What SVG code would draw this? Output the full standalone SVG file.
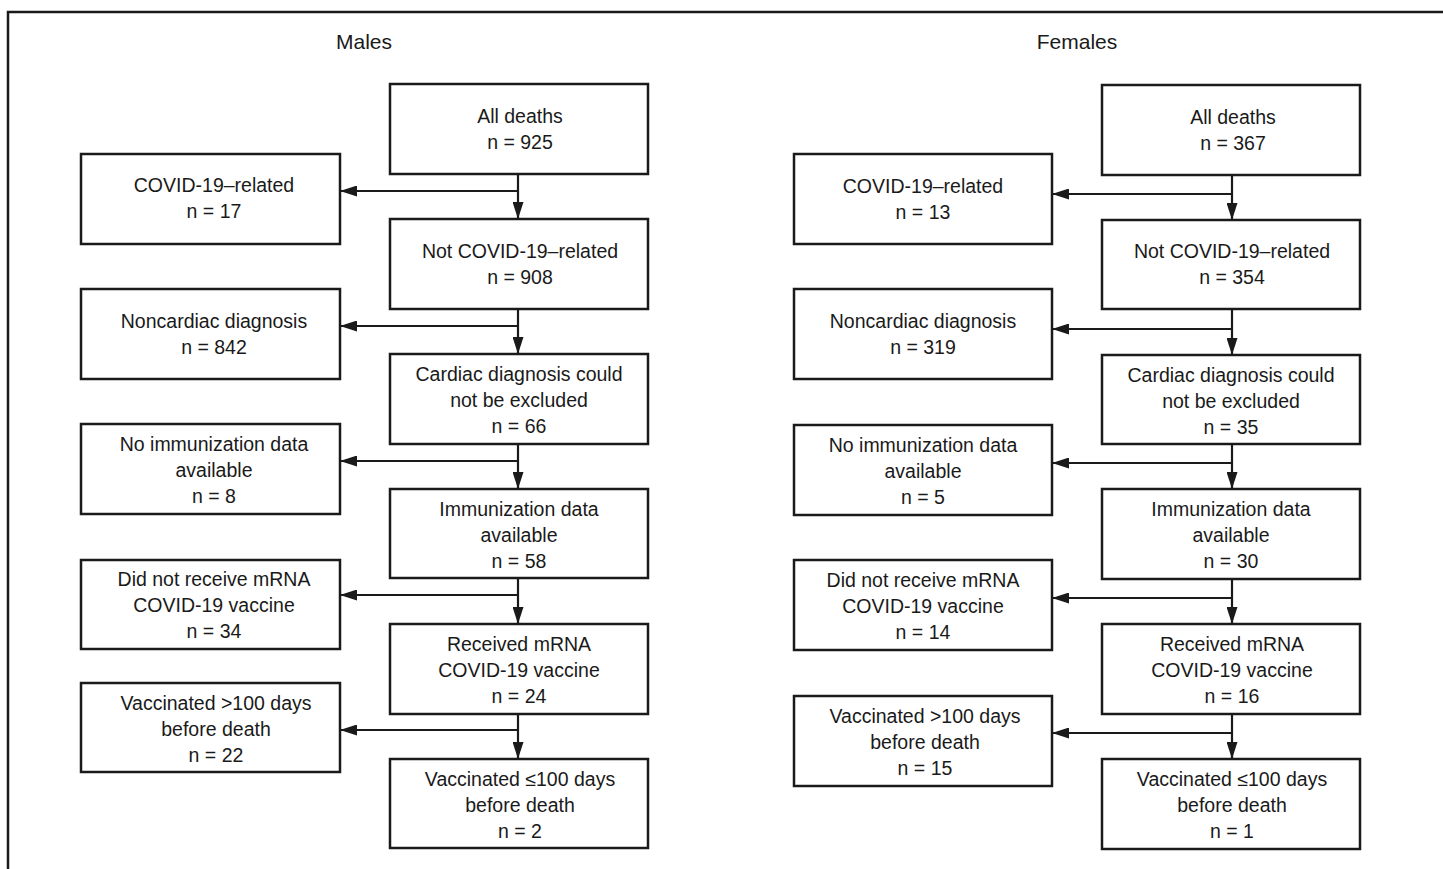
<svg xmlns="http://www.w3.org/2000/svg" width="1443" height="869" viewBox="0 0 1443 869">
<style>
.frame{fill:none;stroke:#1a1a1a;stroke-width:2.5}
.box{fill:#fff;stroke:#1a1a1a;stroke-width:2.5}
.t{font-family:"Liberation Sans",Arial,sans-serif;font-size:19.5px;fill:#1a1a1a;text-anchor:middle}
.title{font-family:"Liberation Sans",Arial,sans-serif;font-size:21px;fill:#1a1a1a;text-anchor:middle}
.c{fill:none;stroke:#1a1a1a;stroke-width:2.2}
</style>
<defs>
<marker id="ah" viewBox="0 0 17 11" refX="17" refY="5.5" markerWidth="17" markerHeight="11" orient="auto" markerUnits="userSpaceOnUse">
<path d="M0,0 L17,5.5 L0,11 z" fill="#1a1a1a"/>
</marker>
</defs>
<rect width="1443" height="869" fill="#fff"/>
<path class="frame" d="M8,869 V12 H1443"/>
<text class="title" x="364" y="49">Males</text>
<text class="title" x="1077" y="49">Females</text>

<g id="connectors">
<path class="c" d="M518,174 V219" marker-end="url(#ah)"/>
<path class="c" d="M518,191 H340" marker-end="url(#ah)"/>
<path class="c" d="M518,309 V354" marker-end="url(#ah)"/>
<path class="c" d="M518,326 H340" marker-end="url(#ah)"/>
<path class="c" d="M518,444 V489" marker-end="url(#ah)"/>
<path class="c" d="M518,461 H340" marker-end="url(#ah)"/>
<path class="c" d="M518,578 V624" marker-end="url(#ah)"/>
<path class="c" d="M518,595 H340" marker-end="url(#ah)"/>
<path class="c" d="M518,714 V759" marker-end="url(#ah)"/>
<path class="c" d="M518,730 H340" marker-end="url(#ah)"/>

<path class="c" d="M1232,175 V220" marker-end="url(#ah)"/>
<path class="c" d="M1232,194 H1052" marker-end="url(#ah)"/>
<path class="c" d="M1232,309 V355" marker-end="url(#ah)"/>
<path class="c" d="M1232,329 H1052" marker-end="url(#ah)"/>
<path class="c" d="M1232,444 V489" marker-end="url(#ah)"/>
<path class="c" d="M1232,463 H1052" marker-end="url(#ah)"/>
<path class="c" d="M1232,579 V624" marker-end="url(#ah)"/>
<path class="c" d="M1232,598 H1052" marker-end="url(#ah)"/>
<path class="c" d="M1232,714 V759" marker-end="url(#ah)"/>
<path class="c" d="M1232,733 H1052" marker-end="url(#ah)"/>
</g>

<!-- Males -->
<g id="m-all"><rect class="box" x="390" y="84" width="258" height="90"/>
<text class="t" x="520" y="123">All deaths</text><text class="t" x="520" y="149">n = 925</text></g>
<g id="m-covid"><rect class="box" x="81" y="154" width="259" height="90"/>
<text class="t" x="214" y="192">COVID-19–related</text><text class="t" x="214" y="218">n = 17</text></g>
<g id="m-notcovid"><rect class="box" x="390" y="219" width="258" height="90"/>
<text class="t" x="520" y="258">Not COVID-19–related</text><text class="t" x="520" y="284">n = 908</text></g>
<g id="m-noncardiac"><rect class="box" x="81" y="289" width="259" height="90"/>
<text class="t" x="214" y="328">Noncardiac diagnosis</text><text class="t" x="214" y="354">n = 842</text></g>
<g id="m-cardiac"><rect class="box" x="390" y="354" width="258" height="90"/>
<text class="t" x="519" y="381">Cardiac diagnosis could</text><text class="t" x="519" y="407">not be excluded</text><text class="t" x="519" y="433">n = 66</text></g>
<g id="m-noimm"><rect class="box" x="81" y="424" width="259" height="90"/>
<text class="t" x="214" y="451">No immunization data</text><text class="t" x="214" y="477">available</text><text class="t" x="214" y="503">n = 8</text></g>
<g id="m-imm"><rect class="box" x="390" y="489" width="258" height="89"/>
<text class="t" x="519" y="516">Immunization data</text><text class="t" x="519" y="542">available</text><text class="t" x="519" y="568">n = 58</text></g>
<g id="m-notrec"><rect class="box" x="81" y="560" width="259" height="89"/>
<text class="t" x="214" y="586">Did not receive mRNA</text><text class="t" x="214" y="612">COVID-19 vaccine</text><text class="t" x="214" y="638">n = 34</text></g>
<g id="m-rec"><rect class="box" x="390" y="624" width="258" height="90"/>
<text class="t" x="519" y="651">Received mRNA</text><text class="t" x="519" y="677">COVID-19 vaccine</text><text class="t" x="519" y="703">n = 24</text></g>
<g id="m-gt100"><rect class="box" x="81" y="683" width="259" height="89"/>
<text class="t" x="216" y="710">Vaccinated &gt;100 days</text><text class="t" x="216" y="736">before death</text><text class="t" x="216" y="762">n = 22</text></g>
<g id="m-le100"><rect class="box" x="390" y="759" width="258" height="89"/>
<text class="t" x="520" y="786">Vaccinated ≤100 days</text><text class="t" x="520" y="812">before death</text><text class="t" x="520" y="838">n = 2</text></g>

<!-- Females -->
<g id="f-all"><rect class="box" x="1102" y="85" width="258" height="90"/>
<text class="t" x="1233" y="124">All deaths</text><text class="t" x="1233" y="150">n = 367</text></g>
<g id="f-covid"><rect class="box" x="794" y="154" width="258" height="90"/>
<text class="t" x="923" y="193">COVID-19–related</text><text class="t" x="923" y="219">n = 13</text></g>
<g id="f-notcovid"><rect class="box" x="1102" y="220" width="258" height="89"/>
<text class="t" x="1232" y="258">Not COVID-19–related</text><text class="t" x="1232" y="284">n = 354</text></g>
<g id="f-noncardiac"><rect class="box" x="794" y="289" width="258" height="90"/>
<text class="t" x="923" y="328">Noncardiac diagnosis</text><text class="t" x="923" y="354">n = 319</text></g>
<g id="f-cardiac"><rect class="box" x="1102" y="355" width="258" height="89"/>
<text class="t" x="1231" y="382">Cardiac diagnosis could</text><text class="t" x="1231" y="408">not be excluded</text><text class="t" x="1231" y="434">n = 35</text></g>
<g id="f-noimm"><rect class="box" x="794" y="425" width="258" height="90"/>
<text class="t" x="923" y="452">No immunization data</text><text class="t" x="923" y="478">available</text><text class="t" x="923" y="504">n = 5</text></g>
<g id="f-imm"><rect class="box" x="1102" y="489" width="258" height="90"/>
<text class="t" x="1231" y="516">Immunization data</text><text class="t" x="1231" y="542">available</text><text class="t" x="1231" y="568">n = 30</text></g>
<g id="f-notrec"><rect class="box" x="794" y="560" width="258" height="90"/>
<text class="t" x="923" y="587">Did not receive mRNA</text><text class="t" x="923" y="613">COVID-19 vaccine</text><text class="t" x="923" y="639">n = 14</text></g>
<g id="f-rec"><rect class="box" x="1102" y="624" width="258" height="90"/>
<text class="t" x="1232" y="651">Received mRNA</text><text class="t" x="1232" y="677">COVID-19 vaccine</text><text class="t" x="1232" y="703">n = 16</text></g>
<g id="f-gt100"><rect class="box" x="794" y="696" width="258" height="90"/>
<text class="t" x="925" y="723">Vaccinated &gt;100 days</text><text class="t" x="925" y="749">before death</text><text class="t" x="925" y="775">n = 15</text></g>
<g id="f-le100"><rect class="box" x="1102" y="759" width="258" height="90"/>
<text class="t" x="1232" y="786">Vaccinated ≤100 days</text><text class="t" x="1232" y="812">before death</text><text class="t" x="1232" y="838">n = 1</text></g>
</svg>
